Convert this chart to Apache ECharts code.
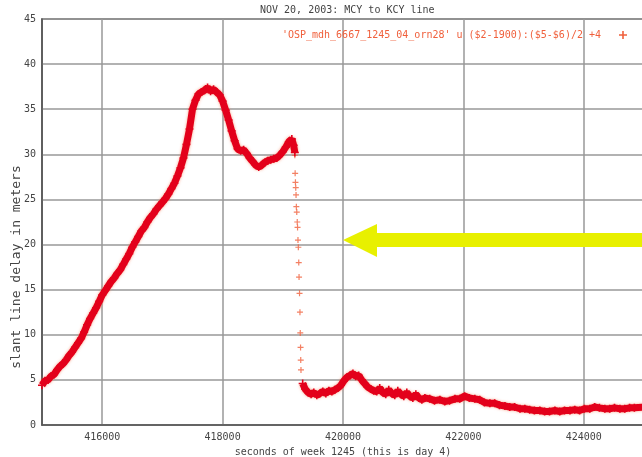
<!DOCTYPE html>
<html>
<head>
<meta charset="utf-8">
<script src="https://cdn.jsdelivr.net/npm/echarts@6/dist/echarts.min.js"></script>
<style>
  html, body { margin: 0; padding: 0; background: #fff; }
  #chart { width: 642px; height: 457px; }
</style>
</head>
<body>
<div id="chart"></div>
<script>
// seconds of week / slant delay (m)
const beforeDrop = [
  [415000, 4.4], [415050, 4.9], [415100, 5.0], [415150, 5.4], [415200, 5.6],
  [415250, 6.1], [415300, 6.5], [415350, 6.8], [415400, 7.2], [415450, 7.7],
  [415500, 8.1], [415550, 8.6], [415600, 9.1], [415650, 9.6], [415700, 10.3],
  [415750, 11.1], [415800, 11.8], [415850, 12.4], [415900, 13.0], [415950, 13.7],
  [416000, 14.4], [416050, 14.9], [416100, 15.4], [416150, 15.9], [416200, 16.3],
  [416250, 16.8], [416300, 17.2], [416350, 17.8], [416400, 18.4], [416450, 19.0],
  [416500, 19.7], [416550, 20.3], [416600, 20.9], [416650, 21.5], [416700, 21.9],
  [416750, 22.5], [416800, 23.0], [416850, 23.4], [416900, 23.9], [416950, 24.3],
  [417000, 24.7], [417050, 25.1], [417100, 25.6], [417150, 26.2], [417200, 26.8],
  [417250, 27.6], [417300, 28.5], [417350, 29.6], [417400, 31.1], [417450, 32.8],
  [417500, 35.0], [417550, 36.0], [417600, 36.7], [417650, 36.9], [417700, 37.1],
  [417750, 37.4], [417800, 37.0], [417850, 37.2], [417900, 36.9], [417950, 36.6],
  [418000, 35.9], [418050, 34.9], [418100, 33.8], [418150, 32.6], [418200, 31.5],
  [418250, 30.6], [418300, 30.4], [418350, 30.5], [418400, 30.1], [418450, 29.6],
  [418500, 29.2], [418550, 28.8], [418600, 28.6], [418650, 28.8], [418700, 29.1],
  [418750, 29.3], [418800, 29.4], [418850, 29.5], [418900, 29.6], [418950, 29.9],
  [419000, 30.3], [419050, 30.8], [419100, 31.4], [419150, 31.7], [419180, 31.0],
  [419200, 30.2]
];

const dropPoints = [
  [419200, 29.9], [419205, 27.9], [419210, 26.9], [419215, 26.3], [419220, 25.5],
  [419225, 24.2], [419232, 23.6], [419240, 22.5], [419245, 21.9], [419252, 20.5],
  [419258, 19.7], [419265, 18.0], [419270, 16.4], [419278, 14.6], [419285, 12.5],
  [419290, 10.2], [419295, 8.6], [419298, 7.2], [419302, 6.1]
];

const afterDrop = [
  [419330, 4.6], [419370, 4.0], [419420, 3.6], [419470, 3.4], [419515, 3.6],
  [419565, 3.3], [419615, 3.5], [419665, 3.7], [419715, 3.5], [419765, 3.8],
  [419815, 3.7], [419865, 3.9], [419915, 4.1], [419965, 4.4], [420015, 4.9],
  [420065, 5.3], [420115, 5.5], [420165, 5.7], [420210, 5.4], [420260, 5.5],
  [420310, 5.0], [420360, 4.6], [420410, 4.2], [420460, 4.0], [420510, 3.8],
  [420560, 3.7], [420610, 4.1], [420660, 3.6], [420710, 3.4], [420760, 3.9],
  [420810, 3.5], [420860, 3.3], [420910, 3.8], [420960, 3.4], [421010, 3.2],
  [421060, 3.6], [421110, 3.2], [421160, 3.0], [421210, 3.4], [421260, 3.0],
  [421310, 2.8], [421360, 3.0], [421440, 2.9], [421520, 2.7], [421610, 2.8],
  [421690, 2.6], [421770, 2.7], [421860, 2.9], [421940, 2.9], [422020, 3.2],
  [422100, 3.0], [422190, 2.9], [422270, 2.8], [422350, 2.5], [422440, 2.4],
  [422520, 2.4], [422600, 2.2], [422690, 2.1], [422770, 2.0], [422850, 2.0],
  [422940, 1.8], [423020, 1.8], [423100, 1.7], [423180, 1.6], [423270, 1.6],
  [423350, 1.5], [423430, 1.5], [423520, 1.6], [423600, 1.5], [423680, 1.6],
  [423770, 1.6], [423850, 1.7], [423930, 1.6], [424010, 1.8], [424100, 1.8],
  [424180, 2.0], [424260, 1.9], [424350, 1.8], [424430, 1.8], [424510, 1.9],
  [424600, 1.8], [424680, 1.8], [424760, 1.9], [424840, 1.9], [425000, 2.0]
];

const xTicks = [416000, 418000, 420000, 422000, 424000];
const seriesName = "'OSP_mdh_6667_1245_04_orn28' u ($2-1900):($5-$6)/2 +4";
const arrowTip = [420000, 20.5];

const font = "DejaVu Sans Mono";
const plus = "path://M4 0h2v4h4v2H6v4H4V6H0V4h4z";
const red = "#e3001b";

var chart = echarts.init(document.getElementById("chart"));
var option = {
  animation: false,
  title: {
    text: "NOV 20, 2003: MCY to KCY line",
    left: 255,
    top: 0,
    textStyle: { fontFamily: font, fontSize: 10, fontWeight: "normal", color: "#444" }
  },
  legend: {
    right: 10,
    top: 25,
    align: "right",
    itemWidth: 34,
    itemHeight: 8,
    icon: plus,
    data: [{ name: seriesName, itemStyle: { color: "#f0603c" } }],
    textStyle: { fontFamily: font, fontSize: 10, color: "#f0603c" }
  },
  grid: {
    left: 42,
    top: 19,
    right: -2,
    bottom: 32,
    outerBoundsMode: "none",
    show: true,
    borderColor: "#555",
    borderWidth: 1.5
  },
  xAxis: {
    type: "value",
    min: 415000,
    max: 425000,
    name: "seconds of week 1245 (this is day 4)",
    nameLocation: "middle",
    nameGap: 22,
    nameTextStyle: { fontFamily: font, fontSize: 10, color: "#444" },
    axisLine: { show: true, lineStyle: { color: "#555", width: 1.5 } },
    axisTick: { show: false, customValues: xTicks },
    axisLabel: {
      customValues: xTicks,
      margin: 7,
      fontFamily: font,
      fontSize: 10,
      color: "#444",
      formatter: function (v) { return String(v); }
    },
    splitLine: { show: true, lineStyle: { color: "#999", width: 1.5 } }
  },
  yAxis: {
    type: "value",
    min: 0,
    max: 45,
    interval: 5,
    name: "slant line delay in meters",
    nameLocation: "middle",
    nameGap: 19,
    nameMoveOverlap: false,
    nameTextStyle: { fontFamily: font, fontSize: 13, color: "#444", padding: [0, 90, 0, 0] },
    axisLine: { show: true, lineStyle: { color: "#555", width: 1.5 } },
    axisTick: { show: false },
    axisLabel: { margin: 6, fontFamily: font, fontSize: 10, color: "#444" },
    splitLine: { show: true, lineStyle: { color: "#999", width: 1.5 } }
  },
  series: [
    {
      name: seriesName,
      type: "line",
      data: beforeDrop,
      symbol: plus,
      symbolSize: 8,
      showAllSymbol: true,
      itemStyle: { color: red },
      lineStyle: { color: red, width: 7, shadowBlur: 3, shadowColor: "rgba(245,120,80,0.7)" }
    },
    {
      name: seriesName,
      type: "scatter",
      data: dropPoints,
      symbol: plus,
      symbolSize: 6,
      itemStyle: { color: "#f0603c" }
    },
    {
      name: seriesName,
      type: "line",
      data: afterDrop,
      symbol: plus,
      symbolSize: 8,
      showAllSymbol: true,
      itemStyle: { color: red },
      lineStyle: { color: red, width: 7, shadowBlur: 3, shadowColor: "rgba(245,120,80,0.7)" }
    }
  ]
};
chart.setOption(option);

// yellow arrow pointing at 420000 / 20.5 m
var tip = chart.convertToPixel({ xAxisIndex: 0, yAxisIndex: 0 }, arrowTip);
chart.setOption({
  graphic: [{
    type: "polygon",
    shape: {
      points: [
        [tip[0], tip[1]],
        [tip[0] + 34, tip[1] - 16],
        [tip[0] + 34, tip[1] - 7],
        [tip[0] + 320, tip[1] - 7],
        [tip[0] + 320, tip[1] + 7],
        [tip[0] + 34, tip[1] + 7],
        [tip[0] + 34, tip[1] + 17]
      ]
    },
    style: { fill: "#e8f000" },
    z: 100
  }]
});
</script>
</body>
</html>
